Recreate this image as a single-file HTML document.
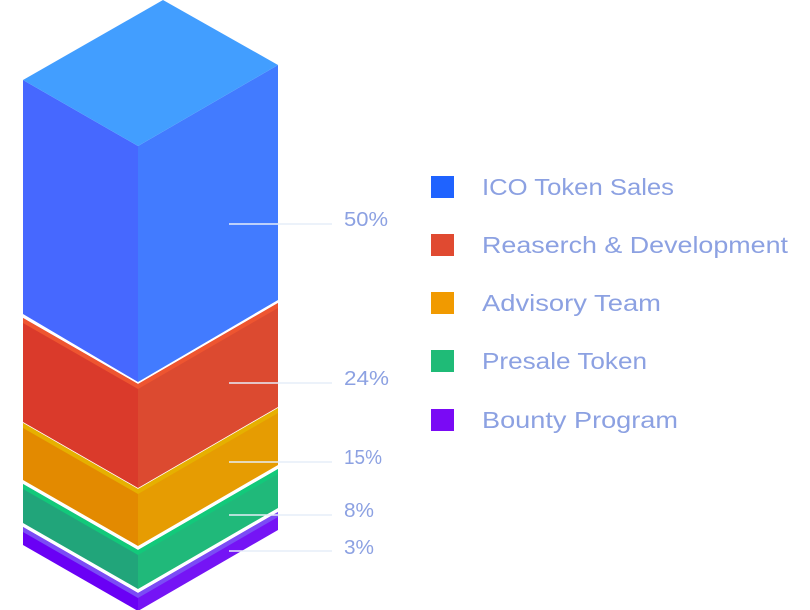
<!DOCTYPE html>
<html><head><meta charset="utf-8"><style>
html,body{margin:0;padding:0;background:#fff;}
svg{display:block;}
text{font-family:"Liberation Sans",sans-serif;fill:#8ca1e2;}
</style></head><body>
<svg width="810" height="610" viewBox="0 0 810 610" xmlns="http://www.w3.org/2000/svg">
<polygon points="23,527 138,593 138,611 23,545" fill="#6a00f5"/>
<polygon points="138,593 278,512 278,530 138,611" fill="#7514f5"/>
<polygon points="23,527 138,593 278,512 278,517 138,598 23,532" fill="#7b4cf5"/>
<polygon points="23,484 138,550 138,589 23,523" fill="#21a57a"/>
<polygon points="138,550 278,469 278,508 138,589" fill="#20b97a"/>
<polygon points="23,484 138,550 278,469 278,474 138,555 23,489" fill="#12c97a"/>
<polygon points="23,423 138,489 138,546 23,480" fill="#e38a00"/>
<polygon points="138,489 278,408 278,465 138,546" fill="#e69c02"/>
<polygon points="23,423 138,489 278,408 278,413 138,494 23,428" fill="#e6b000"/>
<polygon points="23,318 138,384 138,488 23,422" fill="#da3a2b"/>
<polygon points="138,384 278,303 278,407 138,488" fill="#dc4a30"/>
<polygon points="23,318 138,384 278,303 278,308 138,389 23,323" fill="#ee5530"/>
<polygon points="23,80 138,146 138,382 23,314" fill="#4668ff"/>
<polygon points="138,146 278,65 278,300 138,382" fill="#427bff"/>
<polygon points="163,0 278,65 138,146 23,80" fill="#429eff"/>
<g stroke="#e6edf8" stroke-width="1.5">
<line x1="229" y1="224" x2="332" y2="224"/>
<line x1="229" y1="383" x2="332" y2="383"/>
<line x1="229" y1="462" x2="332" y2="462"/>
<line x1="229" y1="515" x2="332" y2="515"/>
<line x1="229" y1="551" x2="332" y2="551"/>
</g>
<g font-size="20">
<text x="344" y="226" textLength="44" lengthAdjust="spacingAndGlyphs">50%</text>
<text x="344" y="385" textLength="45" lengthAdjust="spacingAndGlyphs">24%</text>
<text x="344" y="464" textLength="38" lengthAdjust="spacingAndGlyphs">15%</text>
<text x="344" y="517" textLength="30" lengthAdjust="spacingAndGlyphs">8%</text>
<text x="344" y="554" textLength="30" lengthAdjust="spacingAndGlyphs">3%</text>
</g>
<rect x="431" y="176" width="23" height="22" fill="#1f63ff"/>
<rect x="431" y="234" width="23" height="22" fill="#e04a31"/>
<rect x="431" y="292" width="23" height="22" fill="#f19a00"/>
<rect x="431" y="350" width="23" height="22" fill="#1fbb77"/>
<rect x="431" y="409" width="23" height="22" fill="#7a0af5"/>
<g font-size="23">
<text x="482" y="195" textLength="192" lengthAdjust="spacingAndGlyphs">ICO Token Sales</text>
<text x="482" y="253" textLength="306" lengthAdjust="spacingAndGlyphs">Reaserch &amp; Development</text>
<text x="482" y="311" textLength="179" lengthAdjust="spacingAndGlyphs">Advisory Team</text>
<text x="482" y="369" textLength="165" lengthAdjust="spacingAndGlyphs">Presale Token</text>
<text x="482" y="428" textLength="196" lengthAdjust="spacingAndGlyphs">Bounty Program</text>
</g>
</svg>
</body></html>
